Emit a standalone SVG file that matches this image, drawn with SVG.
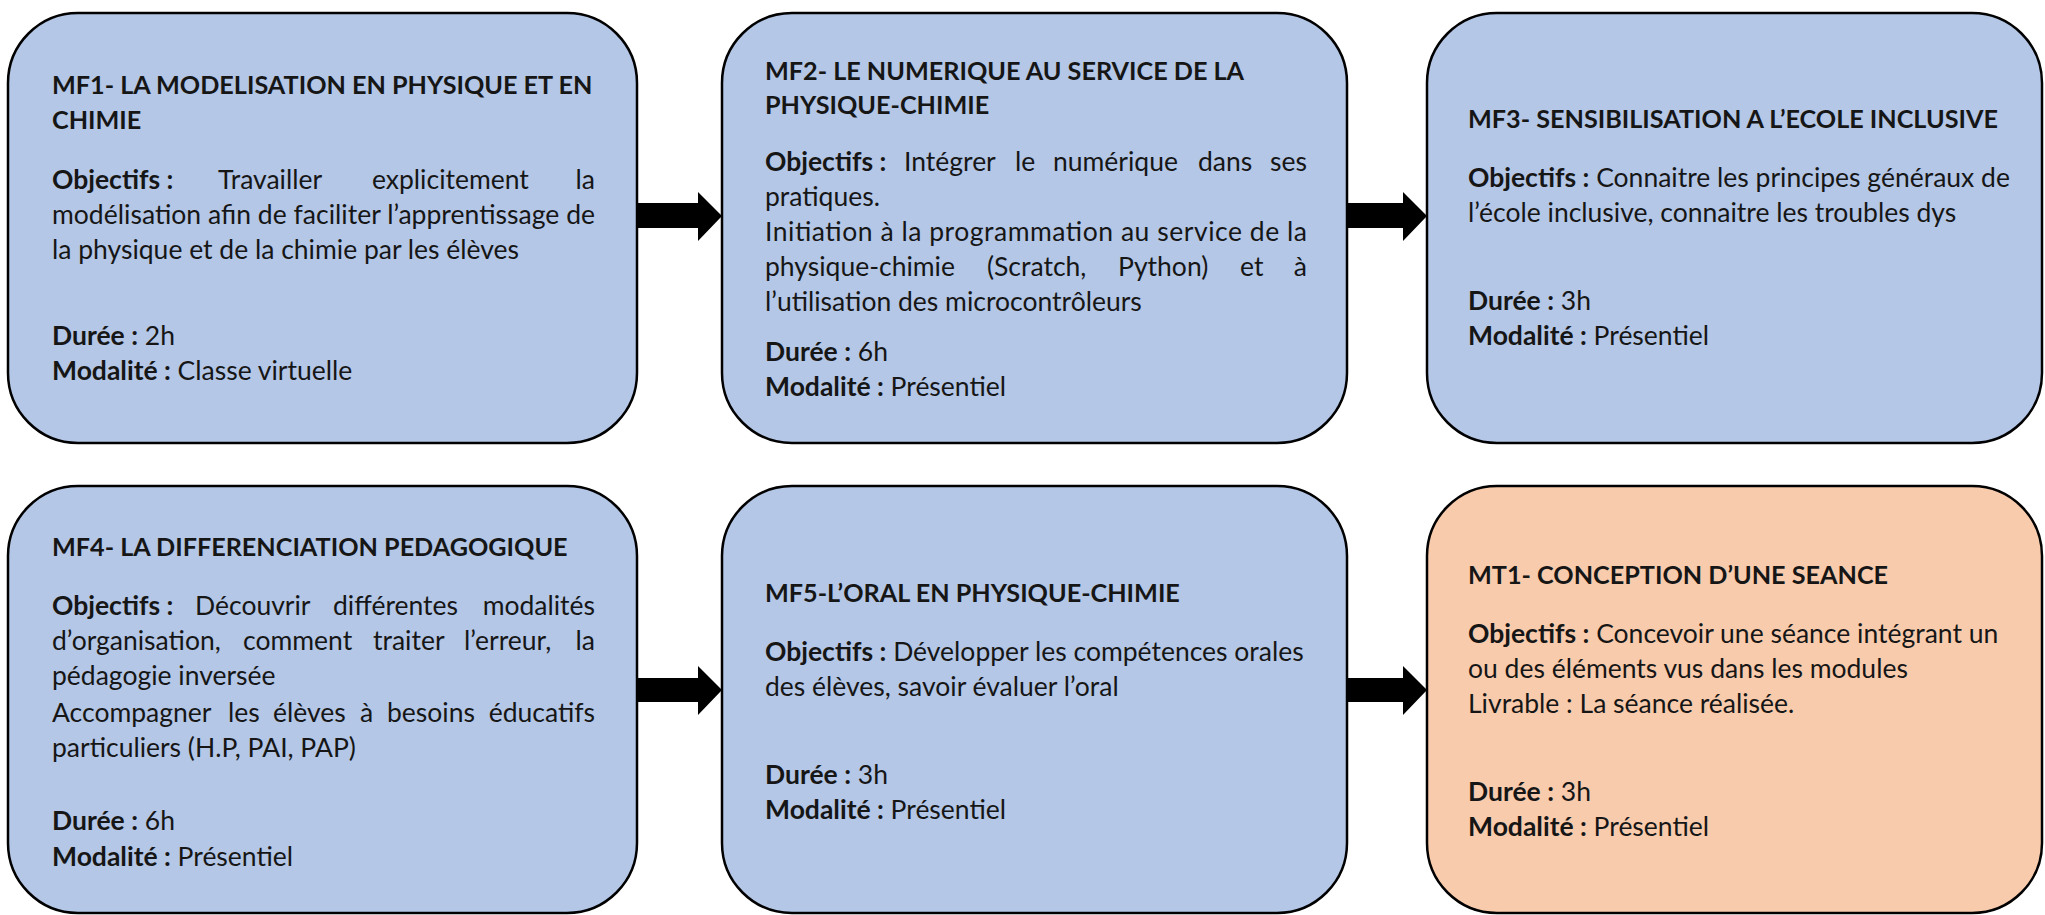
<svg xmlns="http://www.w3.org/2000/svg" width="2045" height="915" viewBox="0 0 2045 915">
<style>
.box{stroke:#000;stroke-width:2.5}
.blue{fill:#B4C7E7}
.peach{fill:#F8CBAD}
text{font-family:Lato,"Noto Sans",sans-serif;font-size:26.5px;fill:#161616}
.tt{font-weight:bold;font-size:25.2px}
.b{font-weight:bold}
.e{text-anchor:end}
.arrow{fill:#000}
</style>
<rect width="2045" height="915" fill="#fff"/>
<g id="connectors">
<polygon class="arrow" points="637,203 698,203 698,192 722,216 698,241 698,228 637,228"/>
<polygon class="arrow" points="1348,203 1403,203 1403,192 1427,216 1403,241 1403,228 1348,228"/>
<polygon class="arrow" points="637,678 698,678 698,666 722,690 698,715 698,702 637,702"/>
<polygon class="arrow" points="1348,678 1403,678 1403,666 1427,690 1403,715 1403,702 1348,702"/>
</g>
<g id="mf1">
<rect class="box blue" x="8" y="13" width="629" height="430" rx="70" ry="70"/>
<text class="tt" x="52" y="94">MF1- LA MODELISATION EN PHYSIQUE ET EN</text>
<text class="tt" x="52" y="129">CHIMIE</text>
<text class="b" x="52" y="189">Objectifs :</text>
<text x="218" y="189">Travailler</text>
<text x="372" y="189">explicitement</text>
<text class="e" x="595" y="189">la</text>
<text x="52" y="224" textLength="543" lengthAdjust="spacing">modélisation afin de faciliter l’apprentissage de</text>
<text x="52" y="259">la physique et de la chimie par les élèves</text>
<text x="52" y="345"><tspan class="b">Durée :</tspan> 2h</text>
<text x="52" y="380"><tspan class="b">Modalité :</tspan> Classe virtuelle</text>
</g>
<g id="mf2">
<rect class="box blue" x="722" y="13" width="625" height="430" rx="70" ry="70"/>
<text class="tt" x="765" y="80">MF2- LE NUMERIQUE AU SERVICE DE LA</text>
<text class="tt" x="765" y="114">PHYSIQUE-CHIMIE</text>
<text class="b" x="765" y="171">Objectifs :</text>
<text x="904" y="171">Intégrer</text>
<text x="1015" y="171">le</text>
<text x="1053" y="171">numérique</text>
<text x="1198" y="171">dans</text>
<text class="e" x="1307" y="171">ses</text>
<text x="765" y="206">pratiques.</text>
<text x="765" y="241" textLength="542" lengthAdjust="spacing">Initiation à la programmation au service de la</text>
<text x="765" y="276">physique-chimie</text>
<text x="987" y="276">(Scratch,</text>
<text x="1118" y="276">Python)</text>
<text x="1240" y="276">et</text>
<text class="e" x="1307" y="276">à</text>
<text x="765" y="311">l’utilisation des microcontrôleurs</text>
<text x="765" y="361"><tspan class="b">Durée :</tspan> 6h</text>
<text x="765" y="396"><tspan class="b">Modalité :</tspan> Présentiel</text>
</g>
<g id="mf3">
<rect class="box blue" x="1427" y="13" width="615" height="430" rx="70" ry="70"/>
<text class="tt" x="1468" y="128">MF3- SENSIBILISATION A L’ECOLE INCLUSIVE</text>
<text x="1468" y="187"><tspan class="b">Objectifs :</tspan> Connaitre les principes généraux de</text>
<text x="1468" y="222">l’école inclusive, connaitre les troubles dys</text>
<text x="1468" y="310"><tspan class="b">Durée :</tspan> 3h</text>
<text x="1468" y="345"><tspan class="b">Modalité :</tspan> Présentiel</text>
</g>
<g id="mf4">
<rect class="box blue" x="8" y="486" width="629" height="427" rx="70" ry="70"/>
<text class="tt" x="52" y="556">MF4- LA DIFFERENCIATION PEDAGOGIQUE</text>
<text class="b" x="52" y="615">Objectifs :</text>
<text x="195" y="615">Découvrir</text>
<text x="333" y="615">différentes</text>
<text class="e" x="595" y="615">modalités</text>
<text x="52" y="650">d’organisation,</text>
<text x="243" y="650">comment</text>
<text x="373" y="650">traiter</text>
<text x="464" y="650">l’erreur,</text>
<text class="e" x="595" y="650">la</text>
<text x="52" y="685">pédagogie inversée</text>
<text x="52" y="722">Accompagner</text>
<text x="228" y="722">les</text>
<text x="273" y="722">élèves</text>
<text x="360" y="722">à</text>
<text x="387" y="722">besoins</text>
<text class="e" x="595" y="722">éducatifs</text>
<text x="52" y="757">particuliers (H.P, PAI, PAP)</text>
<text x="52" y="830"><tspan class="b">Durée :</tspan> 6h</text>
<text x="52" y="866"><tspan class="b">Modalité :</tspan> Présentiel</text>
</g>
<g id="mf5">
<rect class="box blue" x="722" y="486" width="625" height="427" rx="70" ry="70"/>
<text class="tt" x="765" y="602">MF5-L’ORAL EN PHYSIQUE-CHIMIE</text>
<text x="765" y="661"><tspan class="b">Objectifs :</tspan> Développer les compétences orales</text>
<text x="765" y="696">des élèves, savoir évaluer l’oral</text>
<text x="765" y="784"><tspan class="b">Durée :</tspan> 3h</text>
<text x="765" y="819"><tspan class="b">Modalité :</tspan> Présentiel</text>
</g>
<g id="mt1">
<rect class="box peach" x="1427" y="486" width="615" height="427" rx="70" ry="70"/>
<text class="tt" x="1468" y="584">MT1- CONCEPTION D’UNE SEANCE</text>
<text x="1468" y="643"><tspan class="b">Objectifs :</tspan> Concevoir une séance intégrant un</text>
<text x="1468" y="678">ou des éléments vus dans les modules</text>
<text x="1468" y="713">Livrable : La séance réalisée.</text>
<text x="1468" y="801"><tspan class="b">Durée :</tspan> 3h</text>
<text x="1468" y="836"><tspan class="b">Modalité :</tspan> Présentiel</text>
</g>
</svg>
